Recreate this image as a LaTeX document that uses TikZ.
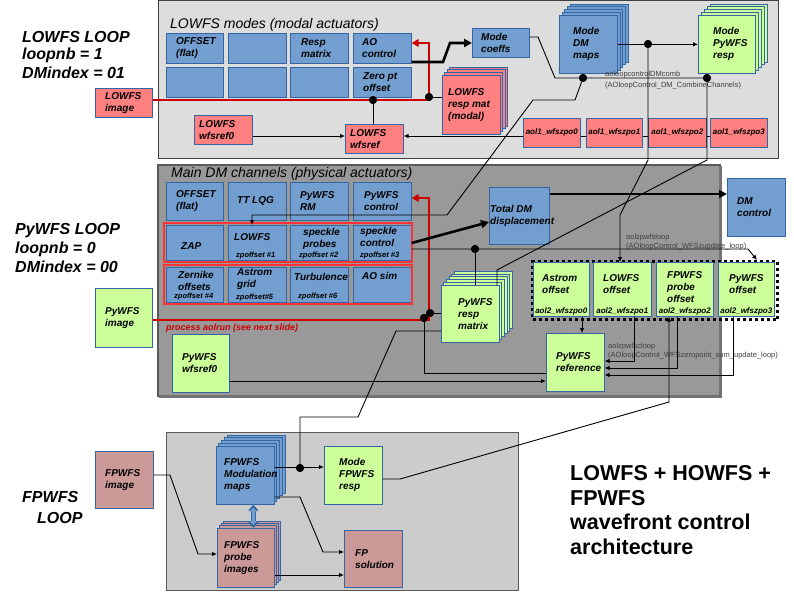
\documentclass[tikz,border=0pt]{standalone}
\usepackage{fontspec}
\setmainfont{Liberation Sans}
\usetikzlibrary{arrows.meta,calc}
\definecolor{bF}{HTML}{729FCF}
\definecolor{bD}{HTML}{3465A4}
\definecolor{rF}{HTML}{FF8080}
\definecolor{gF}{HTML}{CCFF99}
\definecolor{brF}{HTML}{CC9999}
\definecolor{pA}{HTML}{DDDDDD}
\definecolor{pB}{HTML}{999999}
\definecolor{pC}{HTML}{CCCCCC}
\definecolor{rl}{HTML}{CC0000}
\definecolor{rfr}{HTML}{FF3333}
\newcommand{\mkbox}[8]{%
  \node[#2, anchor=north west, minimum width={(#5-#3)*1pt}, minimum height={(#6-#4)*1pt}, inner sep=0pt] (#1) at (#3,#4) {};
  \node[lbl, anchor=west, align=left] at ([xshift=#7pt]#1.west) {#8};}
\begin{document}
\begin{tikzpicture}[x=1pt,y=-1pt,
  bluebox/.style={draw=bD, fill=bF, line width=0.6pt},
  redbox/.style={draw=bD, fill=rF, line width=0.6pt},
  greenbox/.style={draw=bD, fill=gF, line width=0.6pt},
  brownbox/.style={draw=bD, fill=brF, line width=0.6pt},
  lbl/.style={font=\fontsize{10}{12}\selectfont\bfseries\itshape, inner sep=0pt},
  smalllbl/.style={font=\fontsize{7.5}{9}\selectfont\bfseries\itshape, inner sep=0pt},
  aollbl/.style={font=\fontsize{8}{9}\selectfont\bfseries\itshape, inner sep=0pt},
  note/.style={font=\fontsize{7.5}{9}\selectfont, text=black!75, inner sep=0pt, anchor=west},
  big/.style={font=\fontsize{16}{18}\selectfont\bfseries\itshape, inner sep=0pt, anchor=west},
  conn/.style={line width=0.9pt},
  arr/.style={line width=0.9pt, -{Latex[length=5pt,width=4.5pt]}},
  fatarr/.style={line width=2.6pt, -{Triangle[length=8pt,width=8pt]}},
  redl/.style={draw=rl, line width=2.8pt, -{Triangle[length=7pt,width=7.5pt]}},
  jdot/.style={circle, fill=black, inner sep=0pt, minimum size=8pt},
  redframe/.style={draw=rfr, line width=2.7pt}
]
\useasboundingbox (0,0) rectangle (794,595);
\fill[white] (0,0) rectangle (794,595);

% ---------- panels ----------
\filldraw[fill=pA, draw=black!75, line width=0.8pt] (158,0.5) rectangle (778,158);
\filldraw[fill=pB, draw=black!65, line width=1.2pt] (158,165) rectangle (720,396);
\draw[black!55, line width=2.5pt] (720.5,166) -- (720.5,396.5) -- (159,396.5);
\filldraw[fill=pC, draw=black!65, line width=0.8pt] (166,432) rectangle (518,590);
\node[anchor=west, inner sep=0pt, font=\fontsize{14}{16}\selectfont\itshape] at (170,25) {LOWFS modes (modal actuators)};
\node[anchor=west, inner sep=0pt, font=\fontsize{14}{16}\selectfont\itshape] at (171,174) {Main DM channels (physical actuators)};

% ---------- left labels ----------
\node[big] at (22,37) {LOWFS LOOP};
\node[big] at (22,55) {loopnb = 1};
\node[big] at (22,73) {DMindex = 01};
\node[big] at (15,231) {PyWFS LOOP};
\node[big] at (15,249) {loopnb = 0};
\node[big] at (15,267) {DMindex = 00};
\node[big] at (22,497) {FPWFS};
\node[big] at (37,518) {LOOP};
\node[anchor=west, align=left, inner sep=0pt, font=\fontsize{21.5}{24.7}\selectfont\bfseries] at (570,510) {LOWFS + HOWFS +\\FPWFS\\wavefront control\\architecture};

% ---------- panel 1 ----------
\mkbox{offA}{bluebox}{166}{33}{223}{63}{10}{OFFSET\\(flat)}
\mkbox{mAb}{bluebox}{228}{33}{286}{63}{9}{}
\mkbox{respA}{bluebox}{290}{33}{348}{63}{11}{Resp\\matrix}
\mkbox{aocA}{bluebox}{353}{33}{411}{63}{9}{AO\\control}
\mkbox{mBa}{bluebox}{166}{67}{223}{97}{9}{}
\mkbox{mBb}{bluebox}{228}{67}{286}{97}{9}{}
\mkbox{mBc}{bluebox}{290}{67}{348}{97}{9}{}
\mkbox{zptA}{bluebox}{353}{67}{411}{97}{10}{Zero pt\\offset}
\mkbox{lowimg}{redbox}{95}{88}{152}{117}{10}{LOWFS\\image}
\mkbox{wrefA}{redbox}{194}{115}{252}{144}{5}{LOWFS\\wfsref0}
\mkbox{wref}{redbox}{345}{124}{403}{153}{5}{LOWFS\\wfsref}
\foreach \i in {3,2,1} \draw[redbox] ({442+2.5*\i},{75-2.7*\i}) rectangle ++(58,59);
\mkbox{lowresp}{redbox}{442}{75}{500}{134}{6}{LOWFS\\resp mat\\(modal)}
\mkbox{coeffs}{bluebox}{472}{28}{529}{57}{9}{Mode\\coeffs}
\foreach \i in {4,3,2,1} \draw[bluebox] ({559+2.8*\i},{15-2.8*\i}) rectangle ++(58,58);
\mkbox{dmmaps}{bluebox}{559}{15}{617}{73}{14}{Mode\\DM\\maps}
\foreach \i in {4,3,2,1} \draw[greenbox] ({698+3*\i},{15-2.8*\i}) rectangle ++(57,58);
\mkbox{pyresp}{greenbox}{698}{15}{755}{73}{15}{Mode\\PyWFS\\resp}
\mkbox{zA}{redbox}{523}{118}{580}{147}{0}{}
\mkbox{zB}{redbox}{586}{118}{642}{147}{0}{}
\mkbox{zC}{redbox}{648}{118}{706}{147}{0}{}
\mkbox{zD}{redbox}{710}{118}{767}{147}{0}{}
\node[aollbl] at (zA) {aol1\_wfszpo0};
\node[aollbl] at (zB) {aol1\_wfszpo1};
\node[aollbl] at (zC) {aol1\_wfszpo2};
\node[aollbl] at (zD) {aol1\_wfszpo3};
\node[note] at (605,75) {aoloopcontrolDMcomb};
\node[note] at (605,86) {(AOloopControl\_DM\_CombineChannels)};

% ---------- panel 2 ----------
\mkbox{offB}{bluebox}{166}{182}{223}{220}{10}{OFFSET\\(flat)}
\mkbox{ttlqg}{bluebox}{228}{182}{286}{220}{9}{TT LQG}
\mkbox{pyrmcell}{bluebox}{290}{182}{348}{220}{10}{PyWFS\\RM}
\mkbox{pyctl}{bluebox}{353}{182}{411}{220}{11}{PyWFS\\control}
\mkbox{zap}{bluebox}{166}{225}{223}{260}{15}{}
\node[lbl, anchor=west] at (181,246) {ZAP};
\mkbox{lowcell}{bluebox}{228}{225}{286}{260}{6}{}
\node[lbl, anchor=west] at (234,237) {LOWFS};
\node[smalllbl, anchor=west] at (236,256) {zpoffset \#1};
\mkbox{spkp}{bluebox}{290}{225}{348}{260}{13}{}
\node[lbl, anchor=west, align=left] at (303,238.5) {speckle\\probes};
\node[smalllbl, anchor=west] at (299,256) {zpoffset \#2};
\mkbox{spkc}{bluebox}{353}{225}{411}{260}{7}{}
\node[lbl, anchor=west, align=left] at (360,236.5) {speckle\\control};
\node[smalllbl, anchor=west] at (360,256) {zpoffset \#3};
\mkbox{zern}{bluebox}{166}{267}{223}{302}{12}{}
\node[lbl, anchor=west, align=left] at (178,280.5) {Zernike\\offsets};
\node[smalllbl, anchor=west] at (174,297) {zpoffset \#4};
\mkbox{astr}{bluebox}{228}{267}{286}{302}{9}{}
\node[lbl, anchor=west, align=left] at (237,279) {Astrom\\grid};
\node[smalllbl, anchor=west] at (236,298) {zpoffset\#5};
\mkbox{turb}{bluebox}{290}{267}{348}{302}{4}{}
\node[lbl, anchor=west] at (294,277) {Turbulence};
\node[smalllbl, anchor=west] at (298,297) {zpoffset \#6};
\mkbox{aosim}{bluebox}{353}{267}{411}{302}{9}{}
\node[lbl, anchor=west] at (362,276) {AO sim};
\draw[redframe] (164,223) rectangle (412,262);
\draw[redframe] (164,265) rectangle (412,304);
\mkbox{tdm}{bluebox}{489}{187}{549}{244}{1}{Total DM\\displacement}
\mkbox{dmc}{bluebox}{727}{178}{785}{236}{10}{DM\\control}
\foreach \i in {5,4,3,2,1} \draw[greenbox] ({441+2.6*\i},{285-2.8*\i}) rectangle ++(58,57);
\mkbox{pyrmat}{greenbox}{441}{285}{499}{342}{17}{PyWFS\\resp\\matrix}
\node[draw, line width=3pt, dash pattern=on 3pt off 3pt, anchor=north west, minimum width=245pt, minimum height=58pt, inner sep=0pt] (zpf) at (531,260) {};
\mkbox{astoff}{greenbox}{533}{262}{589}{316}{9}{}
\node[lbl, anchor=west, align=left] at (542,284.5) {Astrom\\offset};
\mkbox{lowoff}{greenbox}{593}{262}{651}{316}{10}{}
\node[lbl, anchor=west, align=left] at (603,284.5) {LOWFS\\offset};
\mkbox{fpoff}{greenbox}{656}{262}{713}{316}{11}{}
\node[lbl, anchor=west, align=left] at (667,287.5) {FPWFS\\probe\\offset};
\mkbox{pyoff}{greenbox}{718}{262}{774}{316}{11}{}
\node[lbl, anchor=west, align=left] at (729,284.5) {PyWFS\\offset};
\node[aollbl, anchor=south] at ([yshift=1.5pt]astoff.south) {aol2\_wfszpo0};
\node[aollbl, anchor=south] at ([yshift=1.5pt]lowoff.south) {aol2\_wfszpo1};
\node[aollbl, anchor=south] at ([yshift=1.5pt]fpoff.south) {aol2\_wfszpo2};
\node[aollbl, anchor=south] at ([yshift=1.5pt]pyoff.south) {aol2\_wfszpo3};
\mkbox{pyref}{greenbox}{546}{333}{604}{391}{10}{PyWFS\\reference}
\mkbox{pyrefA}{greenbox}{172}{334}{229}{392}{10}{PyWFS\\wfsref0}
\mkbox{pyimg}{greenbox}{95}{288}{152}{347}{10}{PyWFS\\image}
\node[anchor=west, inner sep=0pt, text=rl, font=\fontsize{9}{11}\selectfont\bfseries\itshape] at (166,328) {process aolrun (see next slide)};
\node[note] at (626,238) {aolzpwfsloop};
\node[note] at (626,247) {(AOloopControl\_WFSzupdate\_loop)};
\node[note] at (608,347) {aolzpwfscloop};
\node[note] at (608,356) {(AOloopControl\_WFSzeropoint\_sum\_update\_loop)};

% ---------- panel 3 ----------
\mkbox{fpimg}{brownbox}{95}{451}{153}{508}{10}{FPWFS\\image}
\foreach \i in {4,3,2,1} \draw[bluebox] ({216+2.75*\i},{446-2.75*\i}) rectangle ++(58,58);
\mkbox{modmaps}{bluebox}{216}{446}{274}{504}{8}{FPWFS\\Modulation\\maps}
\mkbox{fpresp}{greenbox}{324}{446}{382}{504}{15}{Mode\\FPWFS\\resp}
\foreach \i in {3,2,1} \draw[brownbox] ({217+2.2*\i},{528-2.3*\i}) rectangle ++(57,59);
\mkbox{probe}{brownbox}{217}{528}{274}{587}{7}{FPWFS\\probe\\images}
\mkbox{fpsol}{brownbox}{344}{530}{402}{587}{11}{FP\\solution}

% ---------- junction dots ----------
\node[jdot] (dA) at (429,97) {};
\node[jdot] (dB) at (373,100) {};
\node[jdot] (dC) at (648,44) {};
\node[jdot] (dD) at (583,78) {};
\node[jdot] (dE) at (707,78) {};
\node[jdot] (dF) at (475,249) {};
\node[jdot] (dG) at (430,313) {};
\node[jdot] (dH) at (424,318) {};
\node[jdot] (dI) at (300,468) {};

% ---------- connectors: LOWFS loop ----------
\draw[redl] (lowimg.east |- 0,100) -- (429,100) -- (429,43) -- (aocA.east |- 0,43);
\draw[conn] (dA) -- (lowresp.west |- dA);
\draw[conn] (dB) -- (wref.north -| dB);
\draw[arr] (wrefA.east |- 0,136) -- (wref.west |- 0,136);
\draw[arr] (zA.west |- 0,136) -- (wref.east |- 0,136);
\draw[conn] (zA.east |- 0,136) -- (zB.west |- 0,136);
\draw[conn] (zB.east |- 0,136) -- (zC.west |- 0,136);
\draw[conn] (zC.east |- 0,136) -- (zD.west |- 0,136);
\draw[fatarr] (aocA.east |- 0,62) -- (443,62) -- (450,43) -- (coeffs.west |- 0,43);
\draw[conn] (coeffs.east |- 0,37) -- (538,37) -- (555,78) -- (dD) -- (dE);
\draw[arr] (dmmaps.east) -- (pyresp.west);
\draw[arr] (dD) -- (575,100) -- (533,100) -- (447,215) -- (252,215) -- (lowcell.north -| 252,0);
\draw[arr] (dC) -- (648,160) -- (620,215) -- (lowoff.north -| 620,0);
\draw[conn] (dE) -- (707,160) -- (497,270) -- (pyrmat.north -| 497,0);

% ---------- connectors: PyWFS loop ----------
\draw[redl] (pyimg.east |- 0,320) -- (429,320) -- (429,198) -- (pyctl.east |- 0,198);
\draw[conn] (dG) -- (pyrmat.west |- dG);
\draw[conn] (dH) -- (424,373) -- (pyref.west |- 0,373);
\draw[arr] (pyrefA.east |- 0,381) -- (pyref.west |- 0,381);
\draw[fatarr] (spkc.east |- 0,243) -- (tdm.west |- 0,222);
\draw[fatarr] (tdm.east |- 0,194) -- (dmc.west |- 0,194);
\draw[arr] (spkc.east |- 0,249) -- (748,249) -- (zpf.north -| 757,0);
\draw[conn] (dF) -- (pyrmat.north -| dF);
\draw[conn] (pyrmat.west |- 0,331) -- (396,331) -- (358,417) -- (300,417) -- (dI);
\draw[arr] (astoff.south -| 582,0) -- (pyref.north -| 582,0);
\draw[arr] (lowoff.south -| 634,0) -- (634,361) -- (pyref.east |- 0,361);
\draw[arr] (fpoff.south -| 677,0) -- (677,368) -- (pyref.east |- 0,368);
\draw[arr] (pyoff.south -| 733,0) -- (733,375) -- (pyref.east |- 0,375);

% ---------- connectors: FPWFS loop ----------
\draw[arr] (modmaps.east |- 0,467) -- (fpresp.west |- 0,467);
\draw[arr] (fpresp.east |- 0,479) -- (400,479) -- (669,402) -- (fpoff.south -| 669,0);
\draw[arr] (modmaps.east |- 0,497) -- (300,497) -- (323,552) -- (fpsol.west |- 0,552);
\draw[arr] (probe.east |- 0,575) -- (fpsol.west |- 0,575);
\draw[arr] (fpimg.east |- 0,475) -- (170,475) -- (198,554) -- (probe.west |- 0,554);
\draw[draw=bD, line width=5pt, {Triangle[length=6pt,width=10pt]}-{Triangle[length=6pt,width=10pt]}] ([xshift=8pt]modmaps.south) -- ([xshift=8pt]modmaps.south |- probe.north);
\draw[draw=bF, line width=3pt, shorten <=3pt, shorten >=3pt, {Triangle[length=4pt,width=7pt]}-{Triangle[length=4pt,width=7pt]}] ([xshift=8pt]modmaps.south) -- ([xshift=8pt]modmaps.south |- probe.north);

% dots on top
\foreach \d in {dA,dB,dC,dD,dE,dF,dG,dH,dI} \fill (\d) circle[radius=4pt];
\end{tikzpicture}
\end{document}
